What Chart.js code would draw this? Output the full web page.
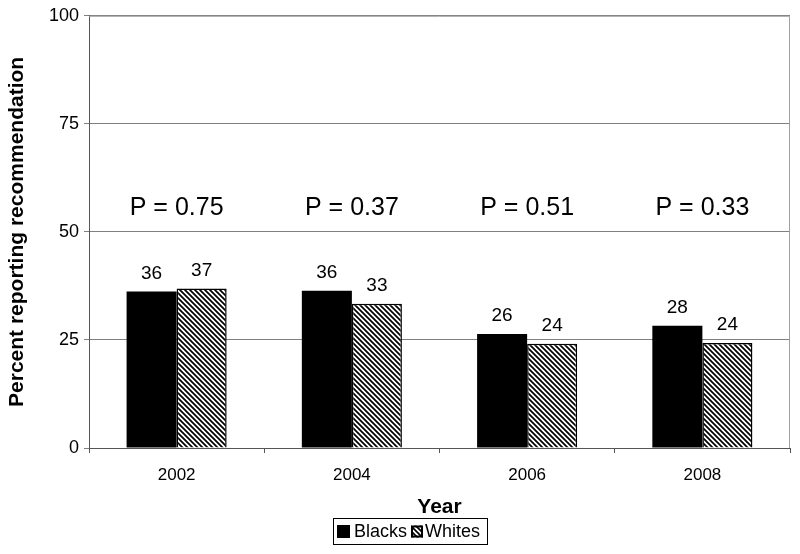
<!DOCTYPE html>
<html>
<head>
<meta charset="utf-8">
<script src="https://cdn.jsdelivr.net/npm/chart.js@4.4.1/dist/chart.umd.min.js"></script>
<style>
html,body{margin:0;padding:0;background:#fff;}
#wrap{width:800px;height:554px;}
</style>
</head>
<body>
<div id="wrap"><canvas id="c" width="800" height="554"></canvas></div>
<script>
const years = ["2002", "2004", "2006", "2008"];
const blacks = [36.2, 36.4, 26.4, 28.3];
const whites = [36.9, 33.4, 24.1, 24.3];
const pValues = ["P = 0.75", "P = 0.37", "P = 0.51", "P = 0.33"];
const yTicks = [0, 25, 50, 75, 100];
const seriesNames = ["Blacks", "Whites"];

const FONT = "Arial, 'Liberation Sans', sans-serif";

function makeHatch() {
  const t = document.createElement('canvas');
  t.width = 5; t.height = 5;
  const g = t.getContext('2d');
  g.fillStyle = '#fff';
  g.fillRect(0, 0, 5, 5);
  g.strokeStyle = '#000';
  g.lineWidth = 1.7;
  g.beginPath();
  for (const k of [-5, 0, 5]) {
    g.moveTo(k - 1, -1);
    g.lineTo(k + 6, 6);
  }
  g.stroke();
  return g.createPattern(t, 'repeat');
}
const ctx0 = document.getElementById('c').getContext('2d');
const hatch = makeHatch();

const annotPlugin = {
  id: 'annot',
  afterDatasetsDraw(chart) {
    const ctx = chart.ctx;
    const ca = chart.chartArea;
    ctx.save();
    ctx.strokeStyle = '#a0a0a0';
    ctx.lineWidth = 1;
    ctx.beginPath();
    ctx.moveTo(ca.left, ca.top + 0.5);
    ctx.lineTo(ca.right - 0.5, ca.top + 0.5);
    ctx.lineTo(ca.right - 0.5, ca.bottom);
    ctx.stroke();
    ctx.restore();

    ctx.save();
    ctx.fillStyle = '#000';
    ctx.font = "19px " + FONT;
    ctx.textAlign = 'center';
    ctx.textBaseline = 'alphabetic';
    chart.data.datasets.forEach((ds, di) => {
      const meta = chart.getDatasetMeta(di);
      meta.data.forEach((bar, i) => {
        ctx.fillText(String(Math.round(ds.data[i])), bar.x, bar.y - 13);
      });
    });
    ctx.font = "25px " + FONT;
    const xs = chart.scales.x;
    const ys = chart.scales.y;
    pValues.forEach((p, i) => {
      ctx.fillText(p, xs.getPixelForValue(i), ys.getPixelForValue(50) - 17);
    });
    ctx.restore();
  },
  afterDraw(chart) {
    const ctx = chart.ctx;
    ctx.save();
    const bx = 333, by = 518, bw = 154, bh = 26;
    ctx.strokeStyle = '#000';
    ctx.lineWidth = 1;
    ctx.strokeRect(bx + 0.5, by + 0.5, bw, bh);
    const cy = by + bh / 2 + 0.5;
    ctx.fillStyle = '#000';
    ctx.fillRect(337, cy - 6.5, 13, 13);
    ctx.fillStyle = hatch;
    ctx.fillRect(411, cy - 6, 12, 12);
    ctx.strokeStyle = '#000';
    ctx.lineWidth = 2;
    ctx.strokeRect(412, cy - 5, 10, 10);
    ctx.fillStyle = '#000';
    ctx.font = "18px " + FONT;
    ctx.textAlign = 'left';
    ctx.textBaseline = 'middle';
    ctx.fillText(seriesNames[0], 354, cy + 1);
    ctx.fillText(seriesNames[1], 425, cy + 1);
    ctx.restore();
  }
};

new Chart(ctx0, {
  type: 'bar',
  data: {
    labels: years,
    datasets: [
      { label: seriesNames[0], data: blacks, backgroundColor: '#000', borderColor: '#000', borderWidth: 0 },
      { label: seriesNames[1], data: whites, backgroundColor: hatch, borderColor: '#000', borderWidth: 1.5 }
    ]
  },
  options: {
    responsive: false,
    animation: false,
    devicePixelRatio: 1,
    layout: { padding: { top: 15, right: 10, left: 0, bottom: 0 } },
    plugins: {
      legend: { display: false },
      tooltip: { enabled: false }
    },
    datasets: { bar: { barPercentage: 1, categoryPercentage: 0.571 } },
    scales: {
      x: {
        grid: { offset: true, drawOnChartArea: false, drawTicks: true, tickLength: 5, color: '#555' },
        border: { color: '#555', width: 1 },
        ticks: { color: '#000', font: { size: 17, family: FONT }, padding: 12, maxRotation: 0 },
        title: { display: true, text: 'Year', color: '#000', font: { size: 21, weight: 'bold', family: FONT }, padding: { top: 0, bottom: 34 } },
        afterFit(s) { s.height = 106; }
      },
      y: {
        min: 0, max: 100,
        afterBuildTicks(s) { s.ticks = yTicks.map(v => ({ value: v })); },
        grid: { color: '#808080', tickLength: 5, drawTicks: true, lineWidth: 1 },
        border: { color: '#555', width: 1 },
        ticks: { color: '#000', font: { size: 18, family: FONT }, padding: 5 },
        title: { display: true, text: 'Percent reporting recommendation', color: '#000', font: { size: 21, weight: 'bold', family: FONT }, padding: { top: 5, bottom: 0 } },
        afterFit(s) { s.width = 89; }
      }
    }
  },
  plugins: [annotPlugin]
});
</script>
</body>
</html>
